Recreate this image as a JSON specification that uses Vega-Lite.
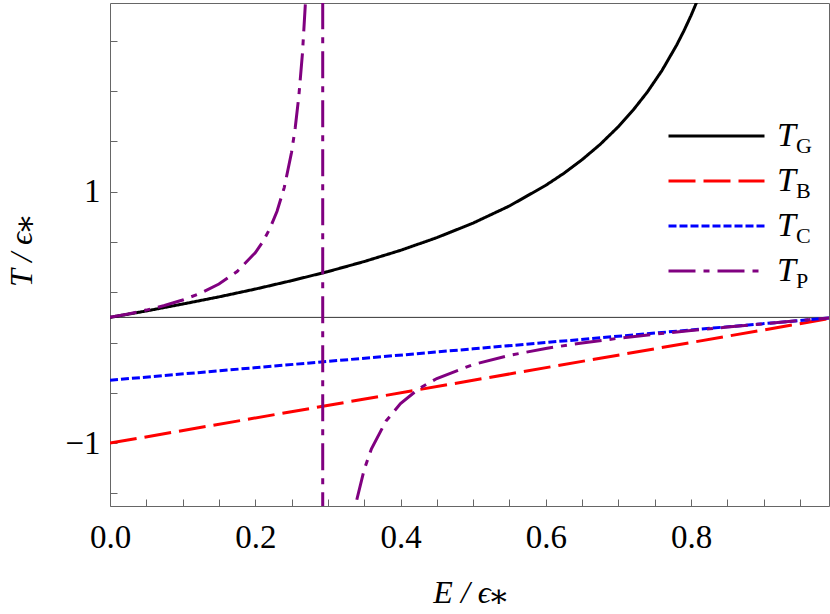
{
  "$schema": "https://vega.github.io/schema/vega-lite/v6.json",
  "width": 719,
  "height": 503,
  "autosize": {"type": "none"},
  "padding": {"left": 110, "top": 3, "right": 1, "bottom": 108},
  "background": "white",
  "config": {
    "font": "Liberation Serif",
    "view": {"stroke": "#666666", "strokeWidth": 1},
    "style": {
      "guide-label": {"font": "Liberation Serif", "fill": "black"},
      "guide-title": {"font": "Liberation Serif, DejaVu Serif", "fill": "black"}
    },
    "axis": {
      "domain": false,
      "grid": false,
      "ticks": true,
      "tickColor": "#666666",
      "tickWidth": 1,
      "labelOverlap": false,
      "labelFlush": false
    }
  },
  "datasets": {
    "curves": [
      {"s": "T_G", "E": 0, "T": 0},
      {"s": "T_G", "E": 0.05, "T": 0.051},
      {"s": "T_G", "E": 0.1, "T": 0.106},
      {"s": "T_G", "E": 0.15, "T": 0.163},
      {"s": "T_G", "E": 0.2, "T": 0.225},
      {"s": "T_G", "E": 0.25, "T": 0.292},
      {"s": "T_G", "E": 0.3, "T": 0.364},
      {"s": "T_G", "E": 0.35, "T": 0.444},
      {"s": "T_G", "E": 0.4, "T": 0.533},
      {"s": "T_G", "E": 0.45, "T": 0.634},
      {"s": "T_G", "E": 0.5, "T": 0.75},
      {"s": "T_G", "E": 0.55, "T": 0.886},
      {"s": "T_G", "E": 0.6, "T": 1.05},
      {"s": "T_G", "E": 0.625, "T": 1.146},
      {"s": "T_G", "E": 0.65, "T": 1.254},
      {"s": "T_G", "E": 0.675, "T": 1.376},
      {"s": "T_G", "E": 0.7, "T": 1.517},
      {"s": "T_G", "E": 0.72, "T": 1.646},
      {"s": "T_G", "E": 0.74, "T": 1.793},
      {"s": "T_G", "E": 0.76, "T": 1.963},
      {"s": "T_G", "E": 0.78, "T": 2.163},
      {"s": "T_G", "E": 0.79, "T": 2.276},
      {"s": "T_G", "E": 0.8, "T": 2.4},
      {"s": "T_G", "E": 0.81, "T": 2.537},
      {"s": "T_G", "E": 0.82, "T": 2.688},
      {"s": "T_B", "E": 0, "T": -1},
      {"s": "T_B", "E": 0.5, "T": -0.5},
      {"s": "T_B", "E": 1, "T": 0},
      {"s": "T_C", "E": 0, "T": -0.5},
      {"s": "T_C", "E": 0.5, "T": -0.25},
      {"s": "T_C", "E": 1, "T": 0},
      {"s": "T_P", "E": 0, "T": 0},
      {"s": "T_P", "E": 0.025, "T": 0.027},
      {"s": "T_P", "E": 0.05, "T": 0.058},
      {"s": "T_P", "E": 0.075, "T": 0.094},
      {"s": "T_P", "E": 0.1, "T": 0.138},
      {"s": "T_P", "E": 0.125, "T": 0.193},
      {"s": "T_P", "E": 0.15, "T": 0.265},
      {"s": "T_P", "E": 0.175, "T": 0.365},
      {"s": "T_P", "E": 0.2, "T": 0.514},
      {"s": "T_P", "E": 0.21, "T": 0.598},
      {"s": "T_P", "E": 0.22, "T": 0.704},
      {"s": "T_P", "E": 0.23, "T": 0.844},
      {"s": "T_P", "E": 0.24, "T": 1.034},
      {"s": "T_P", "E": 0.25, "T": 1.313},
      {"s": "T_P", "E": 0.255, "T": 1.506},
      {"s": "T_P", "E": 0.26, "T": 1.758},
      {"s": "T_P", "E": 0.265, "T": 2.1},
      {"s": "T_P", "E": 0.27, "T": 2.591},
      {"s": "T_P", "E": 0.275, "T": 3.355},
      {"s": "T_P", "E": 0.28, "T": 4.711},
      {"s": "T_P", "E": 0.29289, "T": 100},
      {"s": "T_P", "E": 0.2929, "T": -100},
      {"s": "T_P", "E": 0.31, "T": -3.781},
      {"s": "T_P", "E": 0.32, "T": -2.431},
      {"s": "T_P", "E": 0.33, "T": -1.806},
      {"s": "T_P", "E": 0.34, "T": -1.446},
      {"s": "T_P", "E": 0.35, "T": -1.211},
      {"s": "T_P", "E": 0.36, "T": -1.045},
      {"s": "T_P", "E": 0.38, "T": -0.825},
      {"s": "T_P", "E": 0.4, "T": -0.686},
      {"s": "T_P", "E": 0.425, "T": -0.568},
      {"s": "T_P", "E": 0.45, "T": -0.486},
      {"s": "T_P", "E": 0.5, "T": -0.375},
      {"s": "T_P", "E": 0.55, "T": -0.302},
      {"s": "T_P", "E": 0.6, "T": -0.247},
      {"s": "T_P", "E": 0.65, "T": -0.203},
      {"s": "T_P", "E": 0.7, "T": -0.166},
      {"s": "T_P", "E": 0.75, "T": -0.134},
      {"s": "T_P", "E": 0.8, "T": -0.104},
      {"s": "T_P", "E": 0.85, "T": -0.077},
      {"s": "T_P", "E": 0.9, "T": -0.051},
      {"s": "T_P", "E": 0.95, "T": -0.025},
      {"s": "T_P", "E": 1, "T": 0}
    ],
    "subs": [
      {"sub": "G"},
      {"sub": "B"},
      {"sub": "C"},
      {"sub": "P"}
    ]
  },
  "layer": [
    {
      "data": {"values": [{}]},
      "mark": {"type": "rule", "color": "#333333", "strokeWidth": 1},
      "encoding": {
        "y": {"datum": 0, "type": "quantitative"}
      }
    },
    {
      "data": {"name": "curves"},
      "mark": {"type": "line", "strokeWidth": 3, "clip": true},
      "encoding": {
        "x": {
          "field": "E",
          "type": "quantitative",
          "scale": {"domain": [0, 0.99], "nice": false, "zero": false},
          "axis": {
            "orient": "bottom",
            "values": [0, 0.05, 0.1, 0.15, 0.2, 0.25, 0.3, 0.35, 0.4, 0.45, 0.5, 0.55, 0.6, 0.65, 0.7, 0.75, 0.8, 0.85, 0.9, 0.95],
            "labelExpr": "indexof([0,0.2,0.4,0.6,0.8], datum.value) >= 0 ? format(datum.value, '.1f') : ''",
            "labelOverlap": false,
            "offset": -7,
            "tickSize": 7,
            "labelPadding": 15,
            "labelFont": "Liberation Serif",
            "labelFontSize": 33,
            "labelColor": "black",
            "title": "E / ϵ⁎",
            "titleFont": "Liberation Serif, DejaVu Serif",
            "titleFontSize": 32,
            "titleFontStyle": "italic",
            "titleFontWeight": "normal",
            "titleColor": "black",
            "titleX": 359.5,
            "titleY": 103,
            "titleAlign": "center",
            "titleBaseline": "alphabetic"
          }
        },
        "y": {
          "field": "T",
          "type": "quantitative",
          "scale": {"domain": [-1.5, 2.5], "nice": false, "zero": false},
          "axis": {
            "orient": "left",
            "values": [-1.4, -1.2, -1, -0.8, -0.6, -0.4, -0.2, 0, 0.2, 0.4, 0.6, 0.8, 1, 1.2, 1.4, 1.6, 1.8, 2, 2.2, 2.4],
            "labelExpr": "indexof([-1,0,1,2], datum.value) >= 0 ? format(datum.value, 'd') : ''",
            "labelOverlap": false,
            "offset": -7,
            "tickSize": 7,
            "labelPadding": 10,
            "labelFont": "Liberation Serif",
            "labelFontSize": 33,
            "labelColor": "black",
            "title": "T / ϵ⁎",
            "titleFont": "Liberation Serif, DejaVu Serif",
            "titleFontSize": 32,
            "titleFontStyle": "italic",
            "titleFontWeight": "normal",
            "titleColor": "black",
            "titleAngle": 270,
            "titleX": -96,
            "titleY": 248,
            "titleAlign": "center",
            "titleBaseline": "middle"
          }
        },
        "color": {
          "field": "s",
          "type": "nominal",
          "scale": {"domain": ["T_G", "T_B", "T_C", "T_P"], "range": ["#000000", "#ff0000", "#0000ff", "#800080"]},
          "legend": {
            "orient": "none", "legendX": 557, "legendY": 110.5, "title": null, "padding": 0,
            "symbolType": "stroke", "symbolSize": 9216, "symbolStrokeWidth": 3,
            "clipHeight": 45, "rowPadding": 0,
            "labelExpr": "'T'", "labelFont": "Liberation Serif", "labelFontStyle": "italic",
            "labelFontSize": 34, "labelColor": "black", "labelOffset": 11
          }
        },
        "strokeDash": {
          "field": "s",
          "type": "nominal",
          "scale": {"domain": ["T_G", "T_B", "T_C", "T_P"], "range": [[1, 0], [27, 8], [8, 3], [27, 8, 6, 8]]},
          "legend": {
            "orient": "none", "legendX": 557, "legendY": 110.5, "title": null, "padding": 0,
            "symbolType": "stroke", "symbolSize": 9216, "symbolStrokeWidth": 3,
            "clipHeight": 45, "rowPadding": 0,
            "labelExpr": "'T'", "labelFont": "Liberation Serif", "labelFontStyle": "italic",
            "labelFontSize": 34, "labelColor": "black", "labelOffset": 11
          }
        }
      }
    },
    {
      "data": {"name": "subs"},
      "mark": {"type": "point", "opacity": 0},
      "encoding": {
        "shape": {
          "field": "sub",
          "type": "nominal",
          "scale": {"domain": ["G", "B", "C", "P"]},
          "legend": {
            "orient": "none", "legendX": 664, "legendY": 132, "title": null, "padding": 0,
            "symbolSize": 1, "symbolOpacity": 0, "symbolStrokeWidth": 0, "rowPadding": 23,
            "labelFont": "Liberation Serif", "labelFontSize": 22, "labelColor": "black", "labelOffset": 0
          }
        }
      }
    }
  ]
}
